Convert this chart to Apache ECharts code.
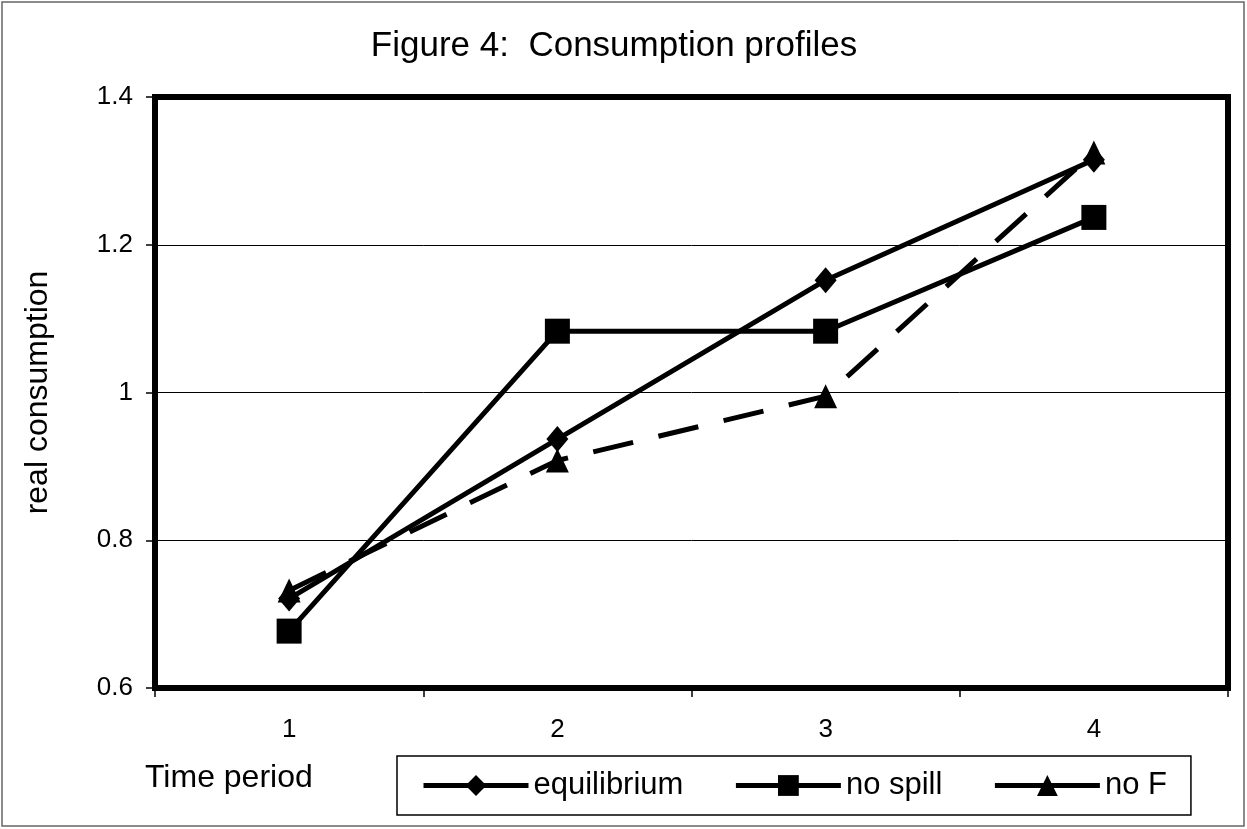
<!DOCTYPE html>
<html>
<head>
<meta charset="utf-8">
<script src="https://cdn.jsdelivr.net/npm/echarts@6/dist/echarts.min.js"></script>
<style>
  html, body { margin: 0; padding: 0; background: #fff; }
  #chart { width: 1247px; height: 829px; }
</style>
</head>
<body>
<div id="chart"></div>
<script>
// data
const periods = ['1', '2', '3', '4'];
const equilibrium = [0.721, 0.937, 1.152, 1.315];
const noSpill = [0.677, 1.083, 1.083, 1.237];
const noF = [0.732, 0.908, 0.995, 1.325];

const font = "'Liberation Sans', Arial, sans-serif";

const chart = echarts.init(document.getElementById('chart'));

const option = {
  backgroundColor: '#fff',
  animation: false,
  title: {
    text: 'Figure 4:  Consumption profiles',
    left: 609,
    top: 24,
    textAlign: 'center',
    textStyle: { fontFamily: font, fontSize: 35, fontWeight: 'normal', color: '#000' }
  },
  graphic: [
    {
      type: 'rect',
      shape: { x: 2, y: 2, width: 1242, height: 824 },
      style: { fill: null, stroke: '#666', lineWidth: 1.5 },
      silent: true
    },
    {
      type: 'text',
      left: 145,
      top: 762,
      style: { text: 'Time period', fontFamily: font, fontSize: 32, fill: '#000' }
    }
  ],
  legend: {
    left: 397,
    top: 756,
    padding: [14, 24, 14, 24],
    itemWidth: 105,
    itemHeight: 26,
    itemGap: 50,
    borderColor: '#000',
    borderWidth: 1.5,
    lineStyle: { width: 5 },
    textStyle: { fontFamily: font, fontSize: 31, color: '#000' },
    data: [
      { name: 'equilibrium' },
      { name: 'no spill' },
      { name: 'no F', lineStyle: { type: 'solid', width: 5 } }
    ]
  },
  grid: {
    left: 155,
    right: 19,
    top: 97,
    bottom: 141,
    show: true,
    borderWidth: 6,
    borderColor: '#000'
  },
  xAxis: {
    type: 'category',
    data: periods,
    boundaryGap: true,
    axisLine: { show: false },
    axisTick: { show: true, length: 9, alignWithLabel: false, lineStyle: { color: '#000', width: 1.5 } },
    axisLabel: { fontFamily: font, fontSize: 26, color: '#000', margin: 29 }
  },
  yAxis: {
    type: 'value',
    min: 0.6,
    max: 1.4,
    interval: 0.2,
    name: 'real consumption',
    nameLocation: 'middle',
    nameGap: 101,
    nameTextStyle: { fontFamily: font, fontSize: 32, color: '#000' },
    axisLine: { show: false },
    axisTick: { show: true, length: 9, lineStyle: { color: '#000', width: 1.5 } },
    axisLabel: { fontFamily: font, fontSize: 26, color: '#000', margin: 22 },
    splitLine: { show: true, lineStyle: { color: '#000', width: 1 } }
  },
  series: [
    {
      name: 'equilibrium',
      type: 'line',
      data: equilibrium,
      symbol: 'diamond',
      symbolSize: [22, 26],
      lineStyle: { color: '#000', width: 5 },
      itemStyle: { color: '#000' }
    },
    {
      name: 'no spill',
      type: 'line',
      data: noSpill,
      symbol: 'rect',
      symbolSize: 25,
      lineStyle: { color: '#000', width: 5 },
      itemStyle: { color: '#000' }
    },
    {
      name: 'no F',
      type: 'line',
      data: noF,
      symbol: 'triangle',
      symbolSize: [23, 24],
      lineStyle: { color: '#000', width: 5, type: [41, 26] },
      itemStyle: { color: '#000' }
    }
  ]
};

chart.setOption(option);
</script>
</body>
</html>
